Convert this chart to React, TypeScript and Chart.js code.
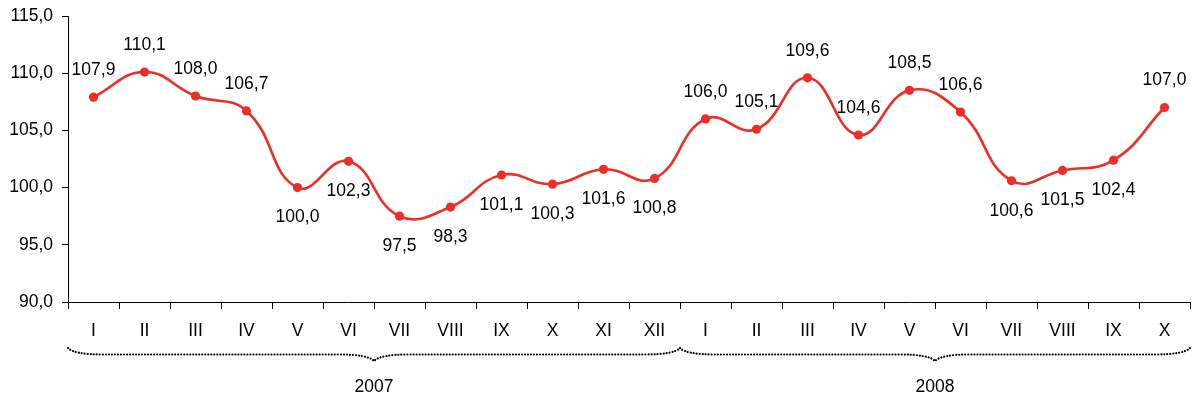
import React, { useEffect, useRef } from "react";
import { Chart, registerables } from "chart.js";

Chart.register(...registerables);

const monthLabels: string[] = [
  "I", "II", "III", "IV", "V", "VI", "VII", "VIII", "IX", "X", "XI", "XII",
  "I", "II", "III", "IV", "V", "VI", "VII", "VIII", "IX", "X",
];
const indexValues: number[] = [
  107.9, 110.1, 108.0, 106.7, 100.0, 102.3, 97.5, 98.3, 101.1, 100.3, 101.6, 100.8,
  106.0, 105.1, 109.6, 104.6, 108.5, 106.6, 100.6, 101.5, 102.4, 107.0,
];
const labelPlacement: string[] = [
  "above", "above", "above", "above", "below", "below", "below", "below", "below", "below", "below", "below",
  "above", "above", "above", "above", "above", "above", "below", "below", "below", "above",
];
const yTickValues: number[] = [90, 95, 100, 105, 110, 115];
const years: string[] = ["2007", "2008"];
const monthsPerYear: number[] = [12, 10];
const yMin = 90;
const yMax = 115;
const yStep = 5;

const FONT = "'Liberation Sans', Arial, sans-serif";
const FSIZE = 17.5;
const LINE_COLOR = "rgb(237,45,40)";

const fmt = (v: number) => v.toFixed(1).replace(".", ",");

const dataLabelPlugin = {
  id: "dataLabels",
  afterDatasetsDraw(chart: any) {
    const ctx = chart.ctx;
    const meta = chart.getDatasetMeta(0);
    ctx.save();
    ctx.font = `${FSIZE}px ${FONT}`;
    ctx.fillStyle = "#000";
    ctx.textAlign = "center";
    ctx.textBaseline = "middle";
    meta.data.forEach((pt: any, i: number) => {
      const dy = labelPlacement[i] === "above" ? -27 : 30;
      ctx.fillText(fmt(indexValues[i]), pt.x, pt.y + dy);
    });
    ctx.restore();
  },
};

const yLabelPlugin = {
  id: "yLabels",
  afterDraw(chart: any) {
    const ctx = chart.ctx;
    const ys = chart.scales.y;
    const axisX = chart.chartArea.left;
    ctx.save();
    ctx.font = `${FSIZE}px ${FONT}`;
    ctx.fillStyle = "#000";
    ctx.textAlign = "right";
    ctx.textBaseline = "middle";
    yTickValues.forEach((v) => {
      ctx.fillText(fmt(v), axisX - 15, ys.getPixelForValue(v));
    });
    ctx.restore();
  },
};

const bracePlugin = {
  id: "yearBraces",
  afterDraw(chart: any) {
    const ctx = chart.ctx;
    const xs = chart.scales.x;
    const n = monthLabels.length;
    const w = (xs.right - xs.left) / n;
    const base = chart.chartArea.bottom;
    const yT = base + 46;
    const yF = base + 52.5;
    const yB = base + 59;
    let start = 0;
    ctx.save();
    years.forEach((yr, gi) => {
      const x0 = xs.left + start * w;
      const x1 = xs.left + (start + monthsPerYear[gi]) * w;
      const xm = (x0 + x1) / 2;
      ctx.beginPath();
      ctx.moveTo(x0, yT);
      ctx.quadraticCurveTo(x0 + 6, yF, x0 + 35, yF);
      ctx.lineTo(xm - 35, yF);
      ctx.quadraticCurveTo(xm - 6, yF, xm, yB);
      ctx.quadraticCurveTo(xm + 6, yF, xm + 35, yF);
      ctx.lineTo(x1 - 35, yF);
      ctx.quadraticCurveTo(x1 - 6, yF, x1, yT);
      ctx.strokeStyle = "#000";
      ctx.lineWidth = 2.2;
      ctx.lineCap = "round";
      ctx.setLineDash([0.01, 3]);
      ctx.stroke();
      ctx.setLineDash([]);
      ctx.font = `${FSIZE}px ${FONT}`;
      ctx.fillStyle = "#000";
      ctx.textAlign = "center";
      ctx.textBaseline = "middle";
      ctx.fillText(yr, xm, base + 85);
      start += monthsPerYear[gi];
    });
    ctx.restore();
  },
};

export default function App() {
  const ref = useRef<HTMLCanvasElement>(null);
  useEffect(() => {
    document.body.style.margin = "0";
    const chart = new Chart(ref.current as HTMLCanvasElement, {
      type: "line",
      data: {
        labels: monthLabels,
        datasets: [
          {
            data: indexValues,
            borderColor: LINE_COLOR,
            backgroundColor: LINE_COLOR,
            borderWidth: 2.6,
            pointRadius: 4.6,
            pointBackgroundColor: LINE_COLOR,
            pointBorderColor: LINE_COLOR,
            pointBorderWidth: 0,
            tension: 0.45,
            fill: false,
          },
        ],
      },
      options: {
        animation: false,
        responsive: true,
        maintainAspectRatio: false,
        layout: { padding: { left: 0, top: 16, right: 7, bottom: 0 } },
        plugins: { legend: { display: false }, tooltip: { enabled: false } },
        scales: {
          x: {
            offset: true,
            grid: {
              offset: true,
              drawOnChartArea: false,
              drawTicks: true,
              tickLength: 7,
              color: "#000",
            },
            border: { display: true, color: "#000", width: 1 },
            ticks: {
              autoSkip: false,
              maxRotation: 0,
              minRotation: 0,
              padding: 12,
              color: "#000",
              font: { family: FONT, size: FSIZE },
            },
            afterFit: (s: any) => {
              s.height = 99;
            },
          },
          y: {
            min: yMin,
            max: yMax,
            grid: {
              drawOnChartArea: false,
              drawTicks: true,
              tickLength: 6,
              color: "#000",
            },
            border: { display: true, color: "#000", width: 1 },
            ticks: {
              stepSize: yStep,
              display: false,
            },
            afterFit: (s: any) => {
              s.width = 68;
            },
          },
        },
      },
      plugins: [dataLabelPlugin, yLabelPlugin, bracePlugin],
    });
    return () => chart.destroy();
  }, []);
  return (
    <div style={{ position: "fixed", left: 0, top: 0, width: 1197, height: 401, background: "#fff" }}>
      <canvas ref={ref} />
    </div>
  );
}
